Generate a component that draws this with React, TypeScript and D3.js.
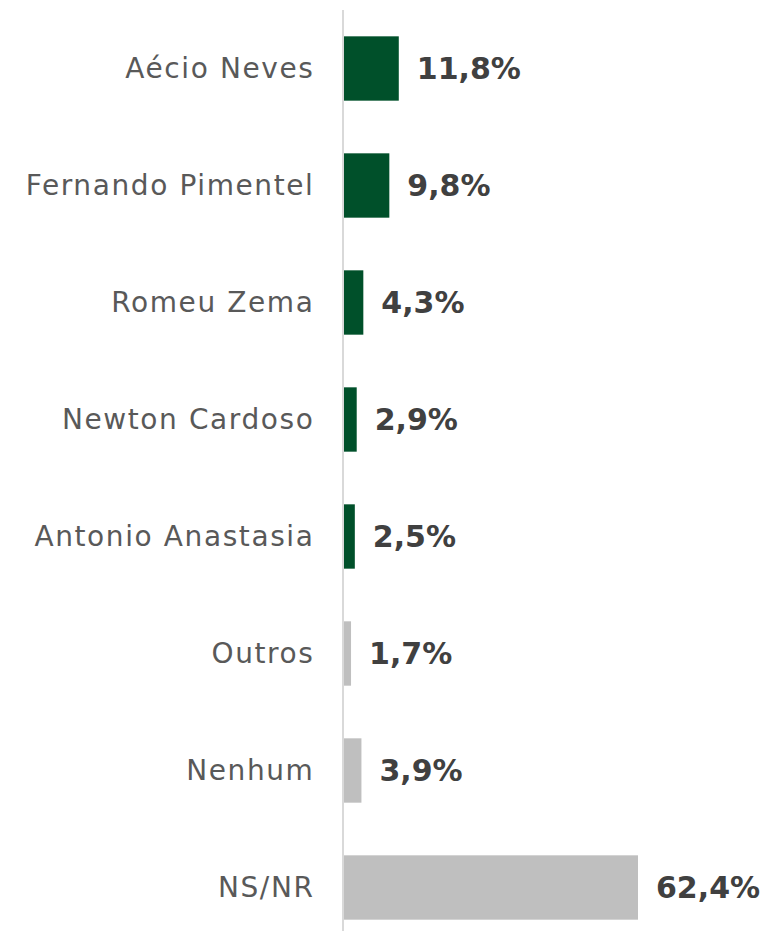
import React from "react";
import * as d3 from "d3";

const categories = ["Aécio Neves", "Fernando Pimentel", "Romeu Zema", "Newton Cardoso", "Antonio Anastasia", "Outros", "Nenhum", "NS/NR"];
const values = [11.8, 9.8, 4.3, 2.9, 2.5, 1.7, 3.9, 62.4];
const barColors = ["#00502A", "#00502A", "#00502A", "#00502A", "#00502A", "#BFBFBF", "#BFBFBF", "#BFBFBF"];

const W = 767;
const H = 931;
const x0 = 343;

export default function App() {
  const x = d3.scaleLinear().domain([0, 62.4]).range([x0, 638]);
  const y = d3.scaleBand<string>().domain(categories).range([10, 946]).paddingInner(0.45).paddingOuter(0.225);
  const fmt = (v: number) => v.toFixed(1).replace(".", ",") + "%";
  return (
    <svg width={W} height={H} style={{ position: "absolute", left: 0, top: 0 }}>
      <rect width={W} height={H} fill="#fff" />
      {categories.map((c, i) => {
        const yy = y(c)!;
        const bw = y.bandwidth();
        return (
          <g key={c}>
            <rect x={x0} y={yy} width={x(values[i]) - x0} height={bw} fill={barColors[i]} />
            <text x={314.5} y={yy + bw / 2} dy="0.35em" textAnchor="end" fill="#595959"
              style={{ fontFamily: "'DejaVu Sans', sans-serif", fontSize: 28, letterSpacing: 1.6 }}>{c}</text>
            <text x={x(values[i]) + 18} y={yy + bw / 2} dy="0.35em" textAnchor="start" fill="#404040"
              style={{ fontFamily: "'DejaVu Sans', sans-serif", fontSize: 30, fontWeight: "bold" }}>{fmt(values[i])}</text>
          </g>
        );
      })}
      <line x1={x0} x2={x0} y1={10} y2={931} stroke="#D9D9D9" strokeWidth={2} />
    </svg>
  );
}
